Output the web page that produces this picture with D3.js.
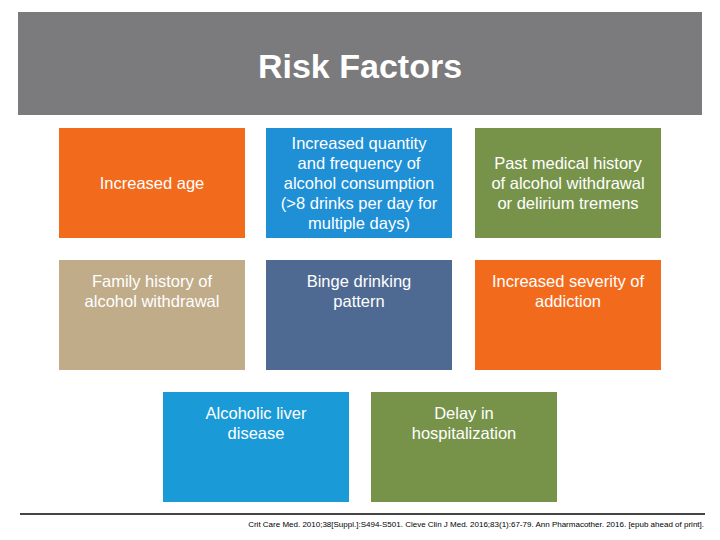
<!DOCTYPE html>
<html><head><meta charset="utf-8">
<script src="https://cdn.jsdelivr.net/npm/d3@7"></script>
<style>body{margin:0;background:#fff}svg{display:block}</style>
</head><body><div id="slide"></div>
<script>
// Risk factor boxes
const labels = [
  ["Increased age"],
  ["Increased quantity", "and frequency of", "alcohol consumption", "(>8 drinks per day for", "multiple days)"],
  ["Past medical history", "of alcohol withdrawal", "or delirium tremens"],
  ["Family history of", "alcohol withdrawal"],
  ["Binge drinking", "pattern"],
  ["Increased severity of", "addiction"],
  ["Alcoholic liver", "disease"],
  ["Delay in", "hospitalization"]
];
const colors = ["#f26b1d", "#1f8fd6", "#77934a", "#c1ac8a", "#4e6a92", "#f26b1d", "#1a9ad6", "#77934a"];
const cols = [59, 266, 475, 59, 266, 475, 163, 371];
const rows = [128, 128, 128, 260, 260, 260, 392, 392];
const textOffset = [0, 0, 0, -24, -24, -24, -24, -24];
const title = "Risk Factors";
const footnote = "Crit Care Med. 2010;38[Suppl.]:S494-S501. Cleve Clin J Med. 2016;83(1):67-79. Ann Pharmacother. 2016. [epub ahead of print].";

const svg = d3.select("#slide").append("svg").attr("width", 720).attr("height", 540);

svg.append("rect").attr("x", 18).attr("y", 12).attr("width", 684).attr("height", 103).attr("fill", "#7b7b7d");
svg.append("text").attr("x", 360).attr("y", 78).attr("text-anchor", "middle")
  .attr("font-family", "Liberation Sans, Arial, sans-serif").attr("font-weight", "bold")
  .attr("font-size", 34).attr("fill", "#fff").text(title);

const w = 186, h = 110;
const g = svg.selectAll("g.box").data(labels).enter().append("g").attr("class", "box")
  .attr("transform", (d, i) => `translate(${cols[i]},${rows[i]})`);
g.append("rect").attr("width", w).attr("height", h).attr("fill", (d, i) => colors[i]);
g.each(function(d, i) {
  const lh = 20;
  const y0 = h / 2 + textOffset[i] - (d.length - 1) * lh / 2 + 6;
  d3.select(this).selectAll("text").data(d).enter().append("text")
    .attr("x", w / 2).attr("y", (t, k) => y0 + k * lh)
    .attr("text-anchor", "middle").attr("fill", "#fff")
    .attr("font-family", "Liberation Sans, Arial, sans-serif").attr("font-size", 16.5)
    .text(t => t);
});

svg.append("line").attr("x1", 20).attr("x2", 705).attr("y1", 514).attr("y2", 514)
  .attr("stroke", "#444").attr("stroke-width", 2);
svg.append("text").attr("x", 704).attr("y", 527).attr("text-anchor", "end")
  .attr("font-family", "Liberation Sans, Arial, sans-serif").attr("font-size", 8).attr("fill", "#000")
  .text(footnote);
</script></body></html>
